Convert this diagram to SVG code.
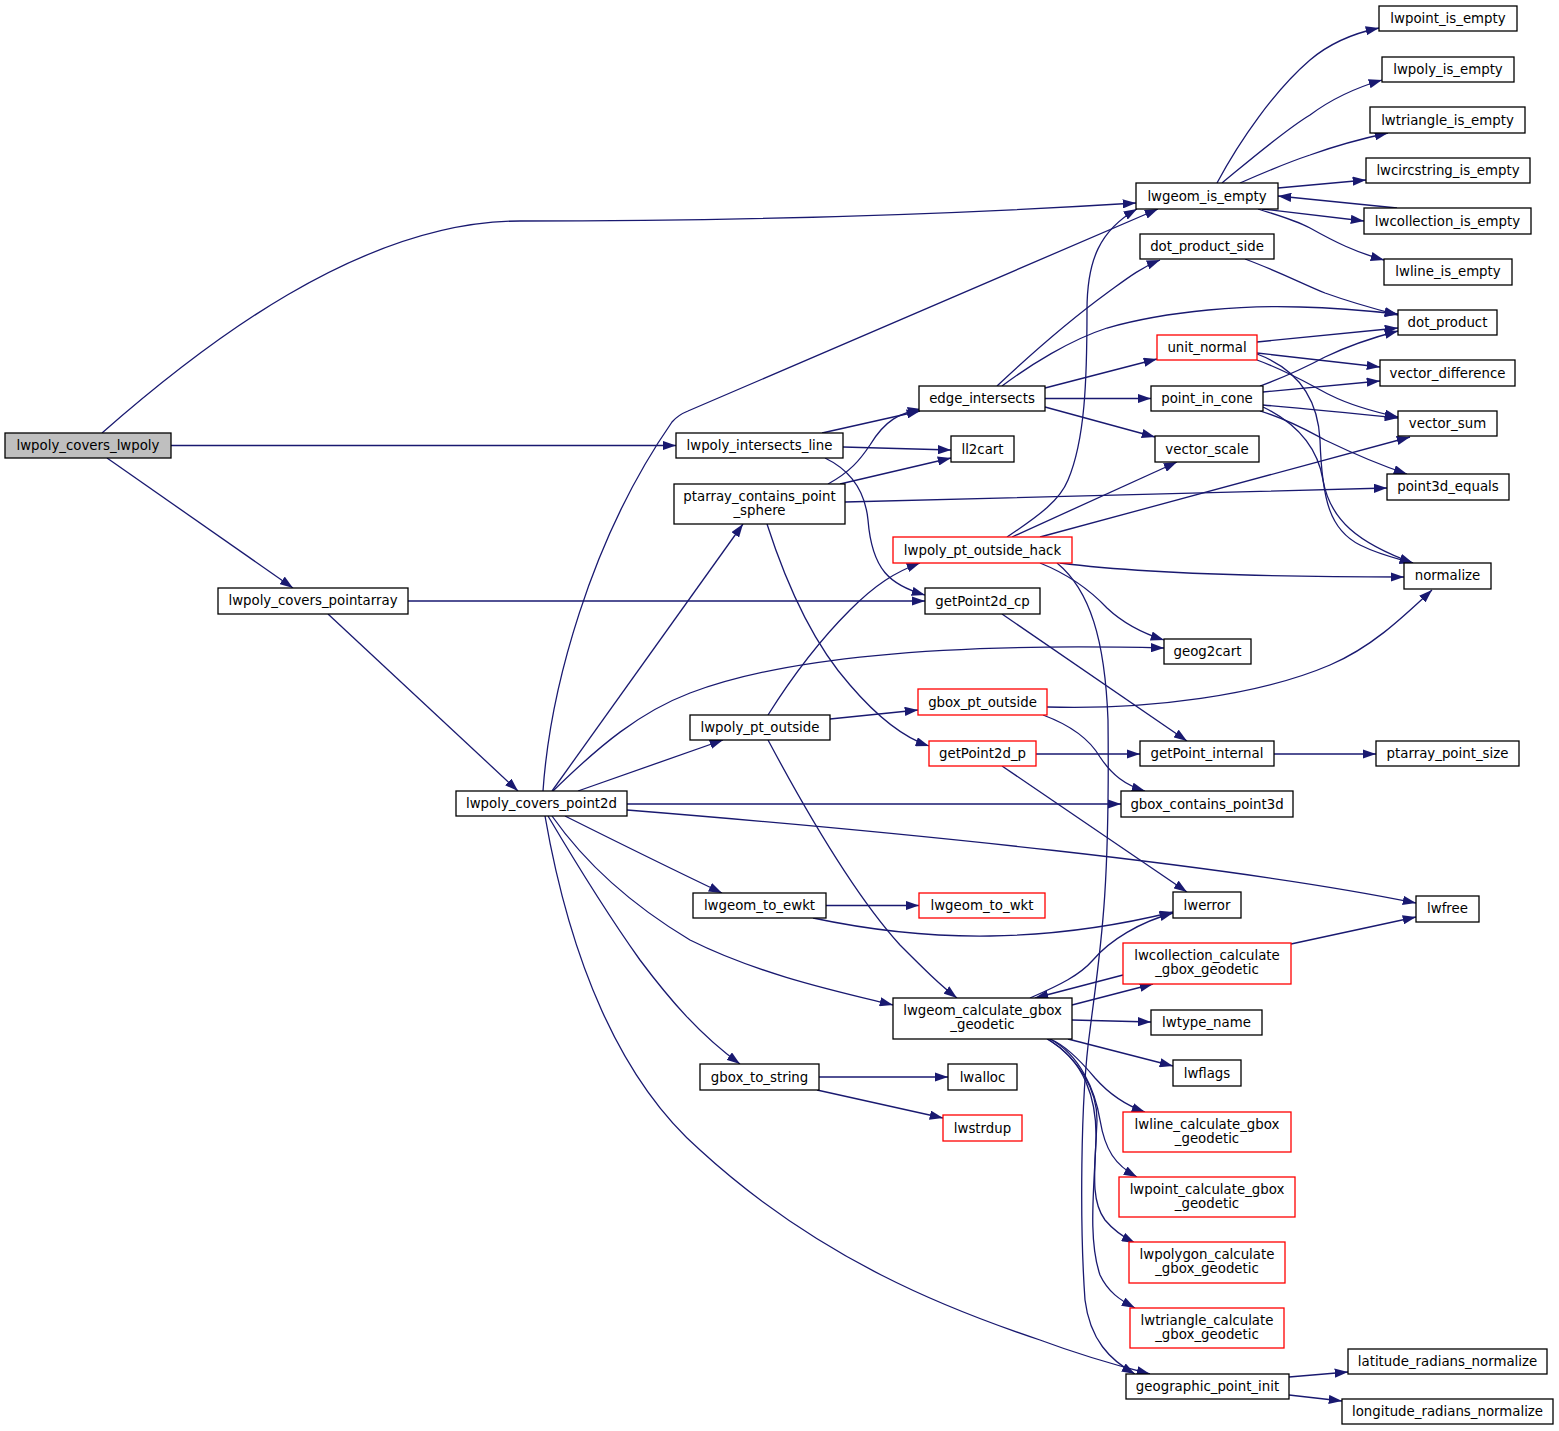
<svg xmlns="http://www.w3.org/2000/svg" width="1559" height="1431" viewBox="0 0 1559 1431">
<style>
.n rect{fill:#fff;stroke:#000;stroke-width:1.3}
.n.r rect{stroke:#ff0000}
.n.root rect{fill:#bfbfbf}
.n text{font-family:"DejaVu Sans","Liberation Sans",sans-serif;font-size:13.33px;text-anchor:middle;fill:#000}
#edges path{fill:none;stroke:#191970;stroke-width:1.3;marker-end:url(#ah)}
</style>
<defs>
<marker id="ah" markerUnits="userSpaceOnUse" viewBox="0 0 13.3 9.3" markerWidth="13.3" markerHeight="9.3" refX="13.3" refY="4.65" orient="auto">
<path d="M0,0 L13.3,4.65 L0,9.3 z" fill="#191970"/>
</marker>
</defs>
<rect width="1559" height="1431" fill="#fff"/>
<g id="edges">
<path d="M102,433 C200,347 360,221 520,221 C760,221 960,214 1136,203"/>
<path d="M171,445.5 L676,445.5"/>
<path d="M107,458 L293,588"/>
<path d="M408,601 L925,601"/>
<path d="M328,614 L518,791"/>
<path d="M543,791 C550,690 590,540 672,422 Q678,415 688,411 L1158,209"/>
<path d="M552,791 L743,524"/>
<path d="M553,791 C600,745 640,712 690,693 C790,655 960,643 1164,648"/>
<path d="M578,791 L723,740"/>
<path d="M627,804 L1121,804"/>
<path d="M627,810 C900,832 1230,865 1416,903"/>
<path d="M565,816 C605,836 655,861 722,893"/>
<path d="M552,816 C590,870 640,910 690,940 C760,975 840,992 893,1005"/>
<path d="M548,816 C580,870 615,925 640,960 C670,1000 700,1035 740,1064"/>
<path d="M545,816 C570,960 620,1080 700,1150 C820,1260 950,1310 1040,1340 C1080,1355 1115,1365 1150,1374"/>
<path d="M822,433 L920,411"/>
<path d="M843,447 L951,450"/>
<path d="M825,458 C850,470 865,490 868,520 C872,570 890,585 925,595"/>
<path d="M828,484 C850,472 860,460 870,445 C885,420 900,413 921,409"/>
<path d="M840,484 L951,458"/>
<path d="M845,502 C1000,498 1200,493 1387,488"/>
<path d="M767,524 C785,580 810,640 850,685 C880,720 905,738 929,746"/>
<path d="M997,386 C1030,355 1070,320 1107,293 C1125,280 1140,268 1160,260"/>
<path d="M1002,386 C1030,365 1070,340 1107,328 C1170,310 1250,305 1300,307 C1340,308 1370,311 1398,314"/>
<path d="M1045,388 L1157,359"/>
<path d="M1045,398.5 L1151,398.5"/>
<path d="M1045,407 L1155,437"/>
<path d="M1007,537 C1040,515 1060,500 1068,480 C1085,440 1087,380 1087,310 C1087,260 1100,230 1137,209"/>
<path d="M1012,537 L1177,462"/>
<path d="M1040,537 L1410,437"/>
<path d="M1060,563 C1130,572 1250,577 1404,577"/>
<path d="M1040,563 C1070,575 1090,590 1107,608 C1125,625 1145,634 1164,640"/>
<path d="M1057,563 C1090,590 1105,640 1108,720 C1110,900 1100,950 1090,1030 C1080,1100 1080,1230 1085,1300 C1090,1340 1110,1360 1135,1374"/>
<path d="M1257,342 L1398,328"/>
<path d="M1257,353 L1380,367"/>
<path d="M1257,360 C1290,372 1310,385 1330,395 C1350,405 1375,412 1398,417"/>
<path d="M1257,354 C1300,370 1318,400 1320,440 C1322,500 1330,530 1360,545 C1380,555 1395,558 1413,563"/>
<path d="M1260,386 C1290,375 1310,365 1325,357 C1350,345 1375,337 1398,331"/>
<path d="M1263,392 L1380,381"/>
<path d="M1263,405 C1310,409 1350,413 1398,418"/>
<path d="M1260,411 C1290,420 1310,432 1325,440 C1350,452 1380,465 1407,474"/>
<path d="M1263,407 C1300,425 1318,450 1323,480 C1330,520 1358,543 1413,563"/>
<path d="M1245,259 C1280,272 1305,285 1325,293 C1350,302 1375,309 1398,315"/>
<path d="M1217,183 C1240,140 1275,90 1310,60 C1330,43 1355,33 1379,28"/>
<path d="M1222,183 C1250,160 1285,130 1310,115 C1330,100 1355,88 1382,80"/>
<path d="M1240,183 C1265,172 1295,160 1310,155 C1335,146 1360,139 1388,133"/>
<path d="M1278,188 L1366,180"/>
<path d="M1262,209 L1364,221"/>
<path d="M1397,208 L1278,196"/>
<path d="M1258,209 C1280,216 1295,220 1310,228 C1335,242 1355,252 1384,260"/>
<path d="M1002,614 L1187,741"/>
<path d="M1047,707 C1150,710 1260,695 1330,665 C1370,648 1400,620 1432,590"/>
<path d="M1043,715 C1070,725 1090,740 1100,757 C1112,775 1125,785 1145,791"/>
<path d="M830,719 L918,710"/>
<path d="M768,715 C790,680 820,640 850,610 C875,585 895,572 920,563"/>
<path d="M768,740 C800,800 850,890 900,945 C925,970 940,985 957,998"/>
<path d="M1036,754 L1140,754"/>
<path d="M1002,766 L1187,892"/>
<path d="M826,905.5 L919,905.5"/>
<path d="M813,918 C860,928 920,937 990,936 C1060,935 1120,925 1173,912"/>
<path d="M1030,998 C1060,985 1080,975 1093,960 C1110,940 1140,922 1173,913"/>
<path d="M1072,1005 L1153,984"/>
<path d="M1123,975 L1035,998"/>
<path d="M1072,1020 L1151,1022"/>
<path d="M1068,1039 L1173,1066"/>
<path d="M1050,1039 C1065,1045 1080,1060 1095,1078 C1110,1095 1125,1105 1145,1112"/>
<path d="M1050,1039 C1080,1055 1095,1090 1100,1120 C1105,1150 1115,1165 1137,1177"/>
<path d="M1048,1039 C1080,1060 1097,1090 1097,1120 C1095,1170 1090,1200 1105,1220 C1115,1232 1125,1238 1135,1243"/>
<path d="M1047,1039 C1085,1060 1097,1100 1096,1140 C1094,1190 1088,1240 1100,1275 C1108,1292 1120,1300 1135,1308"/>
<path d="M1291,944 L1416,917"/>
<path d="M819,1077 L948,1077"/>
<path d="M817,1090 L943,1118"/>
<path d="M1274,754 L1376,754"/>
<path d="M1289,1377 L1348,1372"/>
<path d="M1289,1395 L1342,1401"/>
</g>
<g id="n1" class="n root"><rect x="5" y="433" width="166" height="25"/><text x="88" y="449.5">lwpoly_covers_lwpoly</text></g>
<g id="n2" class="n"><rect x="218" y="588" width="190" height="26"/><text x="313" y="605">lwpoly_covers_pointarray</text></g>
<g id="n3" class="n"><rect x="456" y="791" width="171" height="25"/><text x="541.5" y="808">lwpoly_covers_point2d</text></g>
<g id="n4" class="n"><rect x="676" y="433" width="167" height="25"/><text x="759.5" y="450">lwpoly_intersects_line</text></g>
<g id="n5" class="n"><rect x="919" y="386" width="126" height="25"/><text x="982" y="402.5">edge_intersects</text></g>
<g id="n6" class="n"><rect x="951" y="436" width="63" height="26"/><text x="982.5" y="453.5">ll2cart</text></g>
<g id="n7" class="n"><rect x="674" y="484" width="171" height="40"/><text x="759.5" y="501">ptarray_contains_point</text><text x="759.5" y="515">_sphere</text></g>
<g id="n8" class="n r"><rect x="893" y="537" width="179" height="26"/><text x="982.5" y="554.5">lwpoly_pt_outside_hack</text></g>
<g id="n9" class="n"><rect x="925" y="588" width="115" height="26"/><text x="982.5" y="605.5">getPoint2d_cp</text></g>
<g id="n10" class="n r"><rect x="918" y="689" width="129" height="26"/><text x="982.5" y="706.5">gbox_pt_outside</text></g>
<g id="n11" class="n"><rect x="690" y="715" width="140" height="25"/><text x="760" y="732">lwpoly_pt_outside</text></g>
<g id="n12" class="n r"><rect x="929" y="741" width="107" height="25"/><text x="982.5" y="758">getPoint2d_p</text></g>
<g id="n13" class="n"><rect x="693" y="893" width="133" height="25"/><text x="759.5" y="910">lwgeom_to_ewkt</text></g>
<g id="n14" class="n r"><rect x="919" y="893" width="126" height="25"/><text x="982" y="910">lwgeom_to_wkt</text></g>
<g id="n15" class="n"><rect x="893" y="998" width="179" height="41"/><text x="982.5" y="1015">lwgeom_calculate_gbox</text><text x="982.5" y="1029">_geodetic</text></g>
<g id="n16" class="n"><rect x="700" y="1064" width="119" height="26"/><text x="759.5" y="1081.5">gbox_to_string</text></g>
<g id="n17" class="n"><rect x="948" y="1064" width="69" height="26"/><text x="982.5" y="1081.5">lwalloc</text></g>
<g id="n18" class="n r"><rect x="943" y="1115" width="79" height="26"/><text x="982.5" y="1132.5">lwstrdup</text></g>
<g id="n19" class="n"><rect x="1136" y="183" width="142" height="26"/><text x="1207" y="200.5">lwgeom_is_empty</text></g>
<g id="n20" class="n"><rect x="1140" y="234" width="134" height="25"/><text x="1207" y="251">dot_product_side</text></g>
<g id="n21" class="n r"><rect x="1157" y="335" width="100" height="25"/><text x="1207" y="352">unit_normal</text></g>
<g id="n22" class="n"><rect x="1151" y="386" width="112" height="25"/><text x="1207" y="403">point_in_cone</text></g>
<g id="n23" class="n"><rect x="1155" y="436" width="104" height="26"/><text x="1207" y="453.5">vector_scale</text></g>
<g id="n24" class="n"><rect x="1164" y="639" width="87" height="25"/><text x="1207.5" y="656">geog2cart</text></g>
<g id="n25" class="n"><rect x="1140" y="741" width="134" height="25"/><text x="1207" y="758">getPoint_internal</text></g>
<g id="n26" class="n"><rect x="1121" y="791" width="172" height="26"/><text x="1207" y="808.5">gbox_contains_point3d</text></g>
<g id="n27" class="n"><rect x="1173" y="892" width="68" height="26"/><text x="1207" y="909.5">lwerror</text></g>
<g id="n28" class="n r"><rect x="1123" y="943" width="168" height="41"/><text x="1207" y="960">lwcollection_calculate</text><text x="1207" y="974">_gbox_geodetic</text></g>
<g id="n29" class="n"><rect x="1151" y="1010" width="111" height="25"/><text x="1206.5" y="1027">lwtype_name</text></g>
<g id="n30" class="n"><rect x="1173" y="1060" width="68" height="26"/><text x="1207" y="1077.5">lwflags</text></g>
<g id="n31" class="n r"><rect x="1123" y="1112" width="168" height="40"/><text x="1207" y="1129">lwline_calculate_gbox</text><text x="1207" y="1143">_geodetic</text></g>
<g id="n32" class="n r"><rect x="1119" y="1177" width="176" height="40"/><text x="1207" y="1194">lwpoint_calculate_gbox</text><text x="1207" y="1208">_geodetic</text></g>
<g id="n33" class="n r"><rect x="1129" y="1242" width="156" height="41"/><text x="1207" y="1259">lwpolygon_calculate</text><text x="1207" y="1273">_gbox_geodetic</text></g>
<g id="n34" class="n r"><rect x="1130" y="1308" width="154" height="40"/><text x="1207" y="1325">lwtriangle_calculate</text><text x="1207" y="1339">_gbox_geodetic</text></g>
<g id="n35" class="n"><rect x="1126" y="1374" width="163" height="25"/><text x="1207.5" y="1391">geographic_point_init</text></g>
<g id="n36" class="n"><rect x="1348" y="1349" width="199" height="25"/><text x="1447.5" y="1366">latitude_radians_normalize</text></g>
<g id="n37" class="n"><rect x="1342" y="1399" width="211" height="25"/><text x="1447.5" y="1416">longitude_radians_normalize</text></g>
<g id="n38" class="n"><rect x="1379" y="6" width="138" height="25"/><text x="1448" y="23">lwpoint_is_empty</text></g>
<g id="n39" class="n"><rect x="1382" y="57" width="132" height="25"/><text x="1448" y="74">lwpoly_is_empty</text></g>
<g id="n40" class="n"><rect x="1370" y="107" width="155" height="26"/><text x="1447.5" y="124.5">lwtriangle_is_empty</text></g>
<g id="n41" class="n"><rect x="1366" y="158" width="164" height="25"/><text x="1448" y="175">lwcircstring_is_empty</text></g>
<g id="n42" class="n"><rect x="1364" y="208" width="167" height="26"/><text x="1447.5" y="225.5">lwcollection_is_empty</text></g>
<g id="n43" class="n"><rect x="1384" y="259" width="128" height="26"/><text x="1448" y="276">lwline_is_empty</text></g>
<g id="n44" class="n"><rect x="1398" y="310" width="99" height="25"/><text x="1447.5" y="327">dot_product</text></g>
<g id="n45" class="n"><rect x="1380" y="360" width="135" height="26"/><text x="1447.5" y="377.5">vector_difference</text></g>
<g id="n46" class="n"><rect x="1398" y="411" width="99" height="25"/><text x="1447.5" y="428">vector_sum</text></g>
<g id="n47" class="n"><rect x="1387" y="474" width="122" height="26"/><text x="1448" y="491">point3d_equals</text></g>
<g id="n48" class="n"><rect x="1404" y="563" width="87" height="26"/><text x="1447.5" y="580">normalize</text></g>
<g id="n49" class="n"><rect x="1376" y="741" width="143" height="25"/><text x="1447.5" y="758">ptarray_point_size</text></g>
<g id="n50" class="n"><rect x="1416" y="896" width="63" height="26"/><text x="1447.5" y="913">lwfree</text></g>
</svg>
